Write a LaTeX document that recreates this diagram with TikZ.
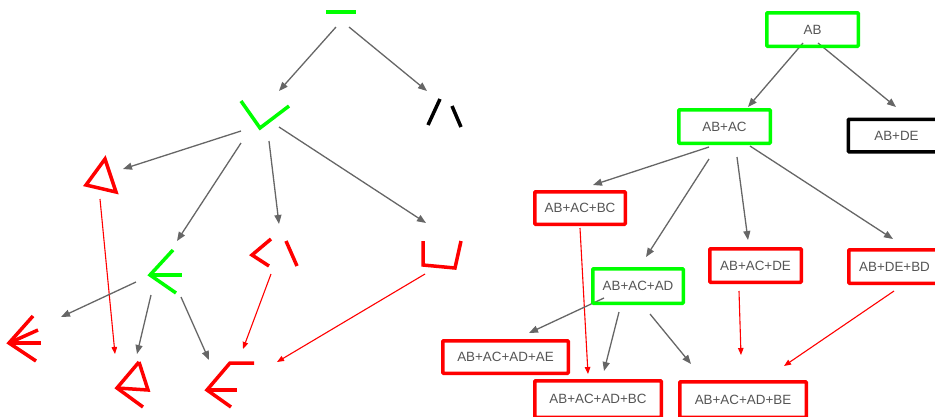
\documentclass[tikz,border=0pt]{standalone}
\usepackage{fontspec}
\setmainfont{Liberation Sans}
\usetikzlibrary{arrows.meta,backgrounds}
\definecolor{gr}{RGB}{0,255,0}
\definecolor{rd}{RGB}{255,0,0}
\definecolor{ln}{RGB}{102,102,102}
\definecolor{tx}{RGB}{85,85,85}
\begin{document}
\begin{tikzpicture}[x=1pt,y=-1pt,
  glyph/.style={line width=3.5pt,line join=miter},
  gglyph/.style={glyph,draw=gr},
  rglyph/.style={glyph,draw=rd},
  kglyph/.style={glyph,draw=black},
  edge/.style={draw=ln,line width=1.3pt,-{Triangle[length=9pt,width=7pt]}},
  redge/.style={draw=rd,line width=1.1pt,-{Triangle[length=7pt,width=5.5pt]}},
  box/.style={draw,line width=3.5pt,rounded corners=0.8pt,inner sep=0pt,
    text=tx,font=\fontsize{13.4}{15}\selectfont},
  gbox/.style={box,draw=gr},
  rbox/.style={box,draw=rd},
  kbox/.style={box,draw=black},
]
\useasboundingbox (0,0) rectangle (935,416);
\clip (0,0) rectangle (935,416);

% ---------- left: glyph drawings ----------
\coordinate (g0) at (341,12);
\coordinate (gv) at (265,115);
\coordinate (gk) at (445,113);
\coordinate (gt) at (101,175);
\coordinate (ga) at (166,272);
\coordinate (gl) at (274,253);
\coordinate (gc) at (442,255);
\coordinate (gf) at (25,339);
\coordinate (gt2) at (132,385);
\coordinate (ge) at (230,385);

\draw[gglyph] (326,12) -- (356,12);
\draw[gglyph] (241,101) -- (260,128) -- (289,106);
\draw[kglyph] (440,99) -- (428,125);
\draw[kglyph] (452,106) -- (461,127);
\draw[rglyph] (105,159) -- (86,185) -- (116,192) -- cycle;
\draw[gglyph] (173,250) -- (150,275) -- (176,293);
\draw[gglyph] (150,275) -- (182,275);
\draw[rglyph] (271,239) -- (252,255) -- (269,266);
\draw[rglyph] (286,241) -- (297,266);
\draw[rglyph] (423,241) -- (423,265) -- (455,268) -- (461,241);
\draw[rglyph] (33,316) -- (9,343) -- (36,361);
\draw[rglyph] (9,343) -- (41,343);
\draw[rglyph] (9,343) -- (38,330);
\draw[rglyph] (139,362) -- (117,388) -- (143,407);
\draw[rglyph] (117,388) -- (148,390) -- (139,362);
\draw[rglyph] (254,363) -- (230,363) -- (207,390) -- (231,407);
\draw[rglyph] (207,390) -- (237,390);

\draw[edge] ([shift={(-5,15)}]g0) -- ([shift={(14,-24)}]gv);
\draw[edge] ([shift={(8,15)}]g0) -- ([shift={(-18,-22)}]gk);
\draw[edge] ([shift={(-24,16)}]gv) -- ([shift={(22,-6)}]gt);
\draw[edge] ([shift={(-24,28)}]gv) -- ([shift={(11,-31)}]ga);
\draw[edge] ([shift={(4,26)}]gv) -- ([shift={(5,-29)}]gl);
\draw[edge] ([shift={(14,12)}]gv) -- ([shift={(-16,-32)}]gc);
\draw[redge] ([shift={(-1,24)}]gt) -- ([shift={(-17,-31)}]gt2);
\draw[edge] ([shift={(-30,10)}]ga) -- ([shift={(36,-22)}]gf);
\draw[edge] ([shift={(-15,23)}]ga) -- ([shift={(5,-31)}]gt2);
\draw[edge] ([shift={(15,25)}]ga) -- ([shift={(-21,-25)}]ge);
\draw[redge] ([shift={(-3,21)}]gl) -- ([shift={(13,-36)}]ge);
\draw[redge] ([shift={(-17,19)}]gc) -- ([shift={(47,-23)}]ge);

% ---------- right: boxes ----------
\node[gbox,minimum width=91.5pt,minimum height=33.5pt] (ab) at (812.5,29.5) {AB};
\node[gbox,minimum width=91.5pt,minimum height=33.5pt] (abac) at (724.5,126.5) {AB+AC};
\node[kbox,minimum width=96.5pt,minimum height=32.5pt] (abde) at (896.5,135.5) {AB+DE};
\node[rbox,minimum width=90.5pt,minimum height=32.5pt] (abacbc) at (580,208) {AB+AC+BC};
\node[rbox,minimum width=91.5pt,minimum height=33.5pt] (abacde) at (755.5,265.5) {AB+AC+DE};
\node[rbox,minimum width=91.5pt,minimum height=33.5pt] (abdebd) at (894.5,266.5) {AB+DE+BD};
\node[gbox,minimum width=90.5pt,minimum height=34.5pt] (abacad) at (638,286) {AB+AC+AD};
\node[rbox,minimum width=125.5pt,minimum height=32.5pt] (ae) at (505.5,357) {AB+AC+AD+AE};
\node[rbox,minimum width=126.5pt,minimum height=36.5pt] (adbc) at (598,399) {AB+AC+AD+BC};
\node[rbox,minimum width=126.5pt,minimum height=35.5pt] (adbe) at (743,399.5) {AB+AC+AD+BE};

\begin{scope}[on background layer]
\draw[edge] ([shift={(-9.5,13.5)}]ab.center) -- ([shift={(23.5,-19.5)}]abac.center);
\draw[edge] ([shift={(5.5,13.5)}]ab.center) -- ([shift={(-0.5,-28.5)}]abde.center);
\draw[edge] ([shift={(-15.5,20.5)}]abac.center) -- ([shift={(13,-23)}]abacbc.center);
\draw[edge] ([shift={(-15.5,32.5)}]abac.center) -- ([shift={(8,-29)}]abacad.center);
\draw[edge] ([shift={(12.5,30.5)}]abac.center) -- ([shift={(-7.5,-25.5)}]abacde.center);
\draw[edge] ([shift={(25.5,19.5)}]abac.center) -- ([shift={(-1.5,-27.5)}]abdebd.center);
\draw[redge] ([shift={(0,20)}]abacbc.center) -- ([shift={(-10,-25)}]adbc.center);
\draw[edge] ([shift={(-34,12)}]abacad.center) -- ([shift={(23.5,-24)}]ae.center);
\draw[edge] ([shift={(-19,26)}]abacad.center) -- ([shift={(6,-28)}]adbc.center);
\draw[edge] ([shift={(12,28)}]abacad.center) -- ([shift={(-52,-35.5)}]adbe.center);
\draw[redge] ([shift={(-16.5,25.5)}]abacde.center) -- ([shift={(-2,-44.5)}]adbe.center);
\draw[redge] ([shift={(-0.5,24.5)}]abdebd.center) -- ([shift={(41,-33.5)}]adbe.center);
\end{scope}
\end{tikzpicture}
\end{document}
